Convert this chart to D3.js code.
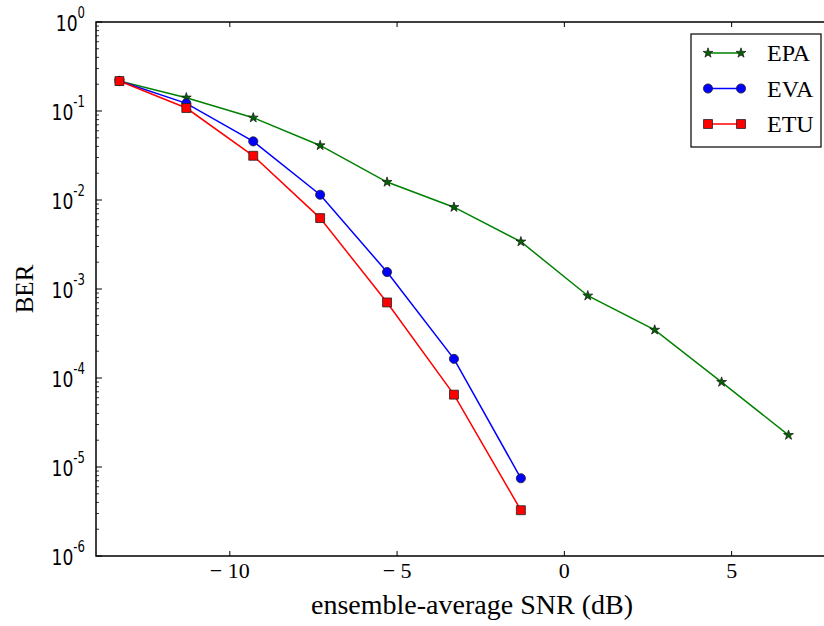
<!DOCTYPE html>
<html>
<head>
<meta charset="utf-8">
<script src="https://cdn.jsdelivr.net/npm/d3@7"></script>
<style>
  body { margin: 0; background: #fff; }
  svg { display: block; }
</style>
</head>
<body>
<div id="chart"></div>
<script>
// SNR points (dB) and BER values
const snrEPA = [-13.3, -11.3, -9.3, -7.3, -5.3, -3.3, -1.3, 0.7, 2.7, 4.7, 6.7];
const berEPA = [0.217, 0.141, 0.084, 0.041, 0.0159, 0.0083, 0.0034, 8.4e-4, 3.47e-4, 9.0e-5, 2.28e-5];
const snrEVA = [-13.3, -11.3, -9.3, -7.3, -5.3, -3.3, -1.3];
const berEVA = [0.217, 0.122, 0.0456, 0.01145, 1.55e-3, 1.64e-4, 7.47e-6];
const snrETU = [-13.3, -11.3, -9.3, -7.3, -5.3, -3.3, -1.3];
const berETU = [0.217, 0.108, 0.0314, 6.26e-3, 7.06e-4, 6.5e-5, 3.27e-6];
const seriesNames = ['EPA', 'EVA', 'ETU'];
const xTicks = [-10, -5, 0, 5];
const yExponents = [0, -1, -2, -3, -4, -5, -6];

var svgWidth = 824;
var svgHeight = 626;
// plot box (right edge falls just past the picture, as in the original)
var pLeft = 96, pRight = 832, pTop = 22, pBottom = 556;

var svg = d3.select('#chart').append('svg')
    .attr('width', svgWidth)
    .attr('height', svgHeight);

var x = d3.scaleLinear().domain([-14, 8]).range([pLeft, pRight]);
var y = d3.scaleLog().domain([1e-6, 1]).range([pBottom, pTop]);

// series styling
var styles = {
    EPA: { line: '#008000', fill: '#006400', symbol: d3.symbolStar, size: 30 },
    EVA: { line: '#0000ff', fill: '#0000ff', symbol: d3.symbolCircle, size: 66 },
    ETU: { line: '#ff0000', fill: '#ff0000', symbol: d3.symbolSquare, size: 80 }
};
var series = [
    { name: 'EPA', xs: snrEPA, ys: berEPA },
    { name: 'EVA', xs: snrEVA, ys: berEVA },
    { name: 'ETU', xs: snrETU, ys: berETU }
];

// y ticks (major + minor), pointing inward
var g = svg.append('g');
yExponents.forEach(function (k) {
    var v = Math.pow(10, k);
    g.append('line')
        .attr('x1', pLeft).attr('x2', pLeft + 6)
        .attr('y1', y(v)).attr('y2', y(v))
        .attr('stroke', '#000').attr('stroke-width', 1);
    if (k < 0) {
        for (var m = 2; m <= 9; m++) {
            var mv = m * v;
            g.append('line')
                .attr('x1', pLeft).attr('x2', pLeft + 3)
                .attr('y1', y(mv)).attr('y2', y(mv))
                .attr('stroke', '#000').attr('stroke-width', 0.8);
        }
    }
    var lab = g.append('g')
        .attr('transform', 'translate(85,' + (y(v) + 8.5) + ') scale(0.78,1)');
    var t = lab.append('text')
        .attr('text-anchor', 'end')
        .attr('font-family', 'DejaVu Sans')
        .attr('font-size', 22)
        .attr('fill', '#000');
    t.append('tspan').text('10');
    t.append('tspan').attr('dy', -12.5).attr('font-size', 15).text(String(k));
});

// x ticks on bottom and top, pointing inward
xTicks.forEach(function (v) {
    g.append('line')
        .attr('x1', x(v)).attr('x2', x(v))
        .attr('y1', pBottom).attr('y2', pBottom - 5)
        .attr('stroke', '#000').attr('stroke-width', 1);
    g.append('line')
        .attr('x1', x(v)).attr('x2', x(v))
        .attr('y1', pTop).attr('y2', pTop + 5)
        .attr('stroke', '#000').attr('stroke-width', 1);
    g.append('text')
        .attr('x', x(v)).attr('y', 578)
        .attr('text-anchor', 'middle')
        .attr('font-family', 'Liberation Serif')
        .attr('font-size', 22)
        .text(v < 0 ? '\u2212 ' + Math.abs(v) : String(v));
});

// frame
svg.append('rect')
    .attr('x', pLeft).attr('y', pTop)
    .attr('width', pRight - pLeft).attr('height', pBottom - pTop)
    .attr('fill', 'none').attr('stroke', '#000').attr('stroke-width', 1.5);

// lines and markers
var line = d3.line()
    .x(function (d) { return x(d[0]); })
    .y(function (d) { return y(d[1]); });

series.forEach(function (s) {
    var st = styles[s.name];
    var pts = s.xs.map(function (v, i) { return [v, s.ys[i]]; });
    svg.append('path')
        .datum(pts)
        .attr('d', line)
        .attr('fill', 'none')
        .attr('stroke', st.line)
        .attr('stroke-width', 1.5);
    svg.selectAll(null)
        .data(pts)
        .enter().append('path')
        .attr('transform', function (d) { return 'translate(' + x(d[0]) + ',' + y(d[1]) + ')'; })
        .attr('d', d3.symbol().type(st.symbol).size(st.size))
        .attr('fill', st.fill)
        .attr('stroke', '#222')
        .attr('stroke-width', 0.8);
});

// axis titles
svg.append('text')
    .attr('x', 472).attr('y', 614)
    .attr('text-anchor', 'middle')
    .attr('font-family', 'Liberation Serif')
    .attr('font-size', 28)
    .attr('textLength', 322)
    .attr('lengthAdjust', 'spacingAndGlyphs')
    .text('ensemble-average SNR (dB)');

svg.append('text')
    .attr('transform', 'translate(33,289) rotate(-90)')
    .attr('text-anchor', 'middle')
    .attr('font-family', 'Liberation Serif')
    .attr('font-size', 25)
    .text('BER');

// legend
var leg = svg.append('g');
leg.append('rect')
    .attr('x', 691).attr('y', 34)
    .attr('width', 130).attr('height', 113)
    .attr('fill', '#fff').attr('stroke', '#000').attr('stroke-width', 1.2);
var legY = d3.scalePoint().domain(seriesNames).range([53, 124]);
seriesNames.forEach(function (name) {
    var st = styles[name];
    var yy = legY(name);
    leg.append('line')
        .attr('x1', 708).attr('x2', 741)
        .attr('y1', yy).attr('y2', yy)
        .attr('stroke', st.line).attr('stroke-width', 1.5);
    [708, 741].forEach(function (xx) {
        leg.append('path')
            .attr('transform', 'translate(' + xx + ',' + yy + ')')
            .attr('d', d3.symbol().type(st.symbol).size(st.size))
            .attr('fill', st.fill)
            .attr('stroke', '#222')
            .attr('stroke-width', 0.8);
    });
    leg.append('text')
        .attr('x', 767).attr('y', yy + 8)
        .attr('font-family', 'Liberation Serif')
        .attr('font-size', 24)
        .text(name);
});
</script>
</body>
</html>
